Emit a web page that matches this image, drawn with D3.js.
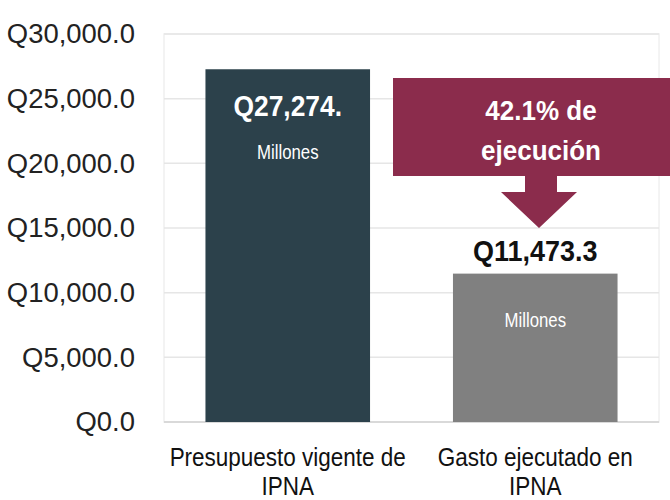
<!DOCTYPE html>
<html>
<head>
<meta charset="utf-8">
<script src="https://cdn.jsdelivr.net/npm/d3@7"></script>
<style>
  body { margin: 0; background: #fff; }
  text { font-family: "Liberation Sans", Arial, sans-serif; }
</style>
</head>
<body>
<div id="chart"></div>
<script>
// chart values
const categories = ["Presupuesto vigente de IPNA", "Gasto ejecutado en IPNA"];
const catLines = [["Presupuesto vigente de", "IPNA"], ["Gasto ejecutado en", "IPNA"]];
const values = [27274, 11473.3];
const valueLabels = ["Q27,274.", "Q11,473.3"];
const yTicks = [0, 5000, 10000, 15000, 20000, 25000, 30000];
const calloutText = ["42.1% de", "ejecución"];

const width = 670;
const height = 500;
const margin = {left: 164, right: 11, top: 34, bottom: 78};

const svg = d3.select("#chart")
  .append("svg")
  .attr("width", width)
  .attr("height", height);

// scales
const yScale = d3.scaleLinear()
  .domain([0, 30000])
  .range([height - margin.bottom, margin.top]);

const xScale = d3.scaleBand()
  .domain(categories)
  .range([margin.left, width - margin.right])
  .paddingInner(0.335)
  .paddingOuter(0.1675);

// narrow text helper (no condensed font installed, so squeeze horizontally)
// lines: array of strings, drawn as tspans of one text element
function narrowText(x, y, lines, size, sx, opts) {
  const o = opts || {};
  const t = svg.append("text")
    .attr("transform", `translate(${x},${y}) scale(${sx},1)`)
    .attr("text-anchor", "middle")
    .attr("font-size", size + "px")
    .attr("font-weight", o.bold ? "bold" : "normal")
    .attr("fill", o.fill || "#111");
  t.selectAll("tspan")
    .data(lines)
    .enter()
    .append("tspan")
      .attr("x", 0)
      .attr("dy", (d, j) => j === 0 ? 0 : (o.lh || size))
      .text(d => d);
  return t;
}

// plot border
svg.append("rect")
  .attr("x", margin.left)
  .attr("y", margin.top)
  .attr("width", width - margin.left - margin.right)
  .attr("height", height - margin.top - margin.bottom)
  .attr("fill", "none")
  .attr("stroke", "#f0f0f0")
  .attr("stroke-width", 1.5);

// gridlines
svg.selectAll(".grid")
  .data(yTicks)
  .enter()
  .append("line")
    .attr("x1", margin.left)
    .attr("x2", width - margin.right)
    .attr("y1", d => yScale(d))
    .attr("y2", d => yScale(d))
    .attr("stroke", d => d === 0 ? "#d9d9d9" : "#e6e6e6")
    .attr("stroke-width", d => d === 0 ? 2 : 1.5);

// y axis labels
const tickSx = 0.98;
const yAxis = svg.append("g")
  .attr("transform", `translate(${margin.left}, 0)`)
  .call(d3.axisLeft(yScale)
    .tickValues(yTicks)
    .tickSize(0)
    .tickPadding(29)
    .tickFormat(d => "Q" + d3.format(",.1f")(d)));
yAxis.select(".domain").remove();
yAxis.selectAll("text")
  .attr("font-size", "28px")
  .attr("fill", "#222")
  .attr("x", -29 / tickSx)
  .attr("transform", `scale(${tickSx},1)`);

// bars
const barColors = ["#2c414b", "#808080"];
svg.selectAll(".bar")
  .data(values)
  .enter()
  .append("rect")
    .attr("class", "bar")
    .attr("x", (d, i) => xScale(categories[i]))
    .attr("y", d => yScale(d))
    .attr("width", xScale.bandwidth())
    .attr("height", d => yScale(0) - yScale(d))
    .attr("fill", (d, i) => barColors[i]);

// value labels
const cx = i => xScale(categories[i]) + xScale.bandwidth() / 2;

narrowText(cx(0), yScale(values[0]) + 47, [valueLabels[0]], 30, 0.88, {bold: true, fill: "#fff"});
narrowText(cx(1), yScale(values[1]) - 13, [valueLabels[1]], 29, 0.93, {bold: true, fill: "#111"});

values.forEach((d, i) => {
  narrowText(cx(i), i === 0 ? yScale(d) + 90 : yScale(d) + 53, ["Millones"], 20, 0.84, {fill: "#fff"});
});

// category labels
catLines.forEach((lines, i) => {
  narrowText(cx(i), 466, lines, 25, 0.9, {fill: "#111", lh: 29});
});

// callout box with arrow
const maroon = "#8b2c4c";
svg.append("rect")
  .attr("x", 393)
  .attr("y", 78)
  .attr("width", width - 393)
  .attr("height", 98)
  .attr("fill", maroon);

svg.append("path")
  .attr("d", "M525,175 L557,175 L557,192 L577,192 L539,228 L501,192 L525,192 Z")
  .attr("fill", maroon);

narrowText(541, 120, calloutText, 28, 0.93, {bold: true, fill: "#fff", lh: 40});
</script>
</body>
</html>
